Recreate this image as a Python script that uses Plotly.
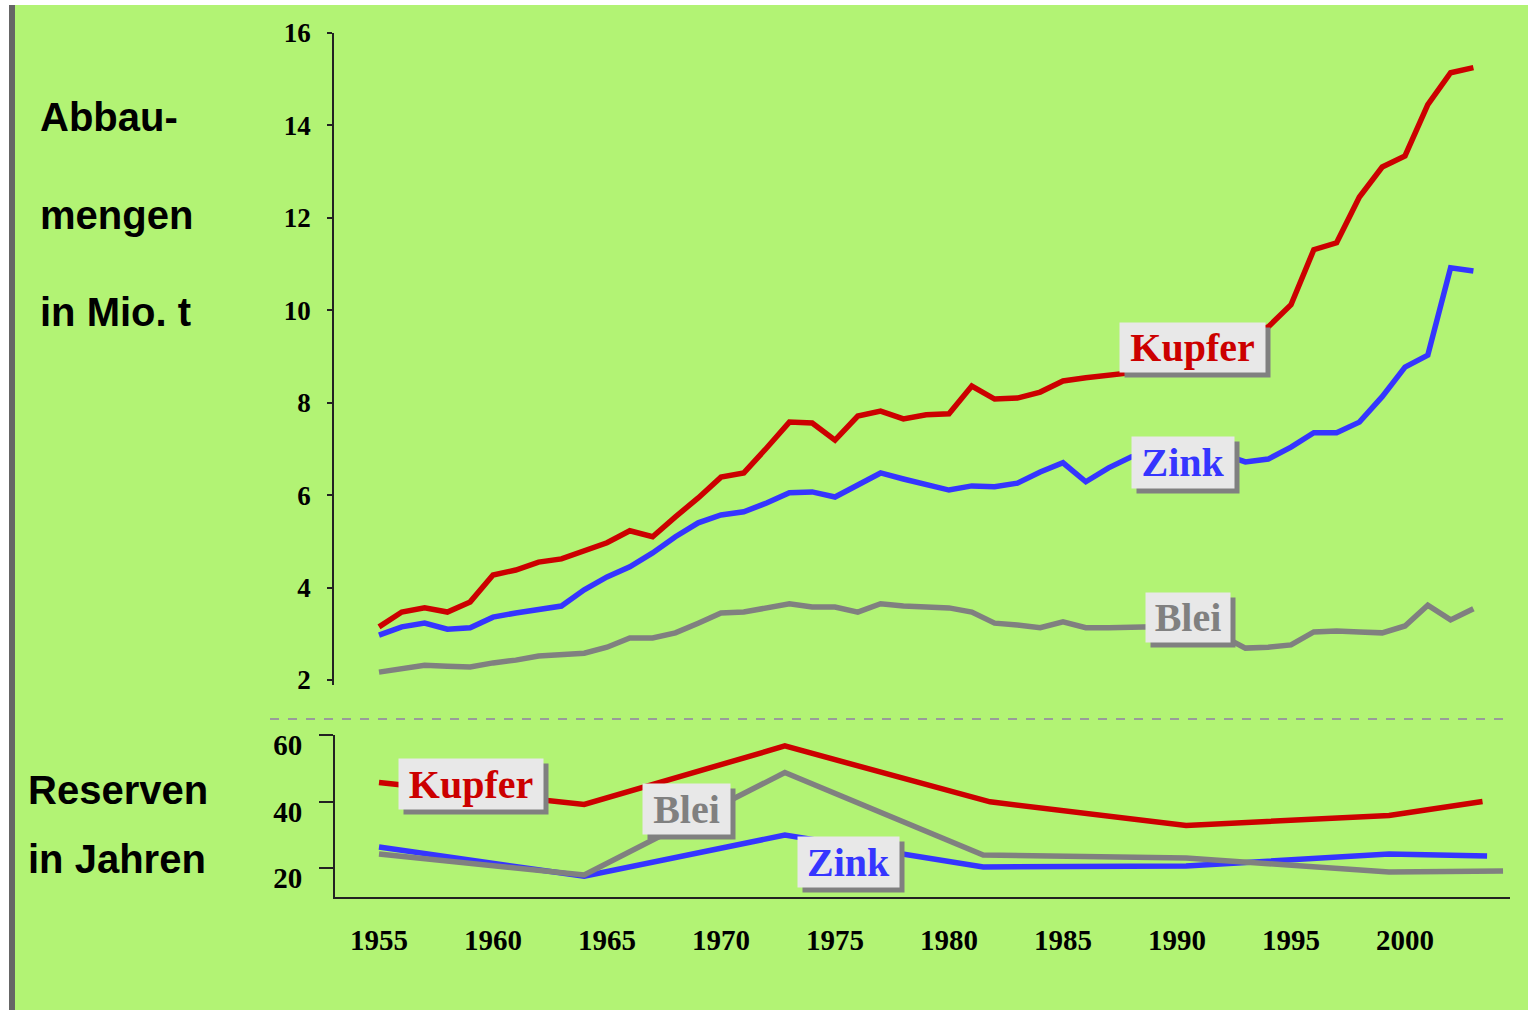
import plotly.graph_objects as go

# ---------------- data ----------------
years = list(range(1955, 2004))

kupfer = [3.15, 3.47, 3.56, 3.47, 3.69, 4.27, 4.38, 4.55, 4.62, 4.81,
          4.97, 5.23, 5.10, 5.53, 5.94, 6.39, 6.48, 7.02, 7.58, 7.56,
          7.19, 7.71, 7.82, 7.65, 7.74, 7.76, 8.36, 8.08, 8.10, 8.23,
          8.47, 8.54, 8.60, 8.65, 8.90, 9.00, 9.10, 9.35, 9.45, 9.64,
          10.12, 11.31, 11.46, 12.45, 13.10, 13.34, 14.45, 15.14, 15.25]

zink = [2.97, 3.15, 3.23, 3.10, 3.13, 3.36, 3.45, 3.54, 3.60, 3.95,
        4.23, 4.45, 4.75, 5.10, 5.40, 5.57, 5.64, 5.83, 6.05, 6.07,
        5.96, 6.22, 6.48, 6.35, 6.24, 6.11, 6.20, 6.18, 6.26, 6.50,
        6.70, 6.29, 6.59, 6.83, 6.95, 7.05, 7.05, 6.90, 6.72, 6.78,
        7.04, 7.35, 7.35, 7.58, 8.13, 8.77, 9.03, 10.92, 10.85]

blei = [2.17, 2.24, 2.32, 2.30, 2.28, 2.37, 2.43, 2.52, 2.56, 2.58,
        2.71, 2.91, 2.91, 3.02, 3.23, 3.45, 3.47, 3.56, 3.65, 3.58,
        3.58, 3.47, 3.65, 3.60, 3.58, 3.56, 3.47, 3.23, 3.19, 3.13,
        3.26, 3.13, 3.13, 3.15, 3.15, 3.10, 3.05, 2.95, 2.69, 2.71,
        2.76, 3.04, 3.06, 3.04, 3.02, 3.17, 3.62, 3.30, 3.54]

res_years_kupfer = [1955, 1964, 1972.8, 1981.8, 1990.4, 1999.3, 2003.4]
res_kupfer = [45.7, 39.1, 56.7, 39.9, 32.8, 35.8, 40.0]
res_years_zink = [1955, 1964, 1972.8, 1981.5, 1990.4, 1999.3, 2003.6]
res_zink = [26.3, 17.5, 29.9, 20.3, 20.6, 24.2, 23.6]
res_years_blei = [1955, 1964, 1972.8, 1981.5, 1990.4, 1999.3, 2004.3]
res_blei = [24.2, 17.9, 48.7, 23.9, 23.0, 18.8, 19.1]

x_ticks = [1955, 1960, 1965, 1970, 1975, 1980, 1985, 1990, 1995, 2000]
top_ticks = [2, 4, 6, 8, 10, 12, 14, 16]
bottom_ticks = [20, 40, 60]

# ---------------- styling ----------------
W, H = 1532, 1010
def px(x):
    return x / W
def py(y):
    return 1 - y / H

RED = "#cc0000"
BLUE = "#3535ff"
GRAY = "#808080"
BG = "#b2f374"
SERIF = "Liberation Serif"
SANS = "Liberation Sans"
LW = 5.5

fig = go.Figure()

# top panel (production)
for yv, col in [(blei, GRAY), (zink, BLUE), (kupfer, RED)]:
    fig.add_trace(go.Scatter(x=years, y=yv, mode="lines", xaxis="x", yaxis="y",
                             line=dict(color=col, width=LW), hoverinfo="skip",
                             showlegend=False))
# bottom panel (reserves)
for xv, yv, col in [(res_years_zink, res_zink, BLUE), (res_years_blei, res_blei, GRAY),
                    (res_years_kupfer, res_kupfer, RED)]:
    fig.add_trace(go.Scatter(x=xv, y=yv, mode="lines", xaxis="x", yaxis="y2",
                             line=dict(color=col, width=LW), hoverinfo="skip",
                             showlegend=False))
# helper trace for the label-only overlay axis
fig.add_trace(go.Scatter(x=[None], y=[None], xaxis="x", yaxis="y3", mode="lines",
                         hoverinfo="skip", showlegend=False))

x_lo = 1955 - (379 - 335) / 22.8
x_hi = 1955 + (1510 - 379) / 22.8
top_lo = 2 - 5 / 46.2
bot_lo = 60 - (897 - 735) / 3.325
shift = 10 / 3.325

fig.update_layout(
    width=W, height=H,
    margin=dict(l=0, r=0, t=0, b=0),
    paper_bgcolor="white", plot_bgcolor="rgba(0,0,0,0)",
    template="none",
    xaxis=dict(domain=[px(335), px(1510)], range=[x_lo, x_hi], anchor="y2",
               showgrid=False, zeroline=False, showline=True, linecolor="#222",
               linewidth=2, ticks="outside", ticklen=16, tickcolor="rgba(0,0,0,0)",
               tickvals=x_ticks, ticktext=[str(t) for t in x_ticks],
               tickfont=dict(family=SERIF, size=29, color="black", weight="bold")),
    yaxis=dict(domain=[py(685), py(33)], range=[top_lo, 16], anchor="free",
               position=px(333), showgrid=False, zeroline=False, showline=True,
               linecolor="#222", linewidth=1.5, ticks="outside", ticklen=5,
               tickcolor="#222", tickwidth=1.5, tickvals=top_ticks,
               ticklabelstandoff=11,
               tickfont=dict(family=SERIF, size=27, color="black", weight="bold")),
    yaxis2=dict(domain=[py(897), py(735)], range=[bot_lo, 60], anchor="x",
                showgrid=False, zeroline=False, showline=True, linecolor="#222",
                linewidth=2, ticks="outside", ticklen=14, tickcolor="#222",
                tickwidth=1.5, tickvals=bottom_ticks, showticklabels=False),
    yaxis3=dict(overlaying="y2", anchor="x", range=[bot_lo + shift, 60 + shift],
                showgrid=False, zeroline=False, showline=False, ticks="outside",
                ticklen=14, tickcolor="rgba(0,0,0,0)", tickvals=bottom_ticks,
                ticklabelstandoff=12,
                tickfont=dict(family=SERIF, size=29, color="black", weight="bold")),
    shapes=[
        dict(type="rect", xref="paper", yref="paper", x0=px(15), x1=px(1528), y0=0, y1=py(5),
             fillcolor=BG, line=dict(width=0), layer="below"),
        dict(type="rect", xref="paper", yref="paper", x0=px(9), x1=px(15), y0=0, y1=py(5),
             fillcolor="#666666", line=dict(width=0), layer="below"),
        dict(type="line", xref="paper", yref="paper", x0=px(270), x1=px(1510),
             y0=py(719), y1=py(719), line=dict(color="#9a9a9a", width=2, dash="dash")),
    ],
)

# side titles
for txt, yy, xx in [("Abbau-", 117, 38), ("mengen", 215, 38), ("in Mio. t", 312, 38),
                    ("Reserven", 790, 26), ("in Jahren", 859, 26)]:
    fig.add_annotation(text=txt, xref="paper", yref="paper", x=px(xx), y=py(yy),
                       xanchor="left", yanchor="middle", showarrow=False,
                       font=dict(family=SANS, size=40, color="black", weight="bold"))

# series labels with drop shadow
labels = [
    ("Kupfer", RED, "y", 1990.68, 9.20, 145, 49),
    ("Zink", BLUE, "y", 1990.26, 6.71, 102, 51),
    ("Blei", GRAY, "y", 1990.48, 3.35, 84, 49),
    ("Kupfer", RED, "y2", 1959.04, 45.26, 144, 50),
    ("Blei", GRAY, "y2", 1968.49, 37.74, 87, 50),
    ("Zink", BLUE, "y2", 1975.59, 21.8, 101, 50),
]
for txt, col, yref, xx, yy, w, h in labels:
    fig.add_annotation(text="\u00a0", xref="x", yref=yref, x=xx, y=yy, showarrow=False,
                       width=w, height=h, bgcolor=GRAY, borderpad=0, xshift=5, yshift=-5,
                       font=dict(family=SERIF, size=40, color="rgba(0,0,0,0)"))
    fig.add_annotation(text=txt, xref="x", yref=yref, x=xx, y=yy, showarrow=False,
                       width=w, height=h, bgcolor="#e8e8e8", borderpad=0,
                       font=dict(family=SERIF, size=40, color=col, weight="bold"))

fig.write_html("out.html", config={"displayModeBar": False},
               post_script="document.body.style.margin='0';")
